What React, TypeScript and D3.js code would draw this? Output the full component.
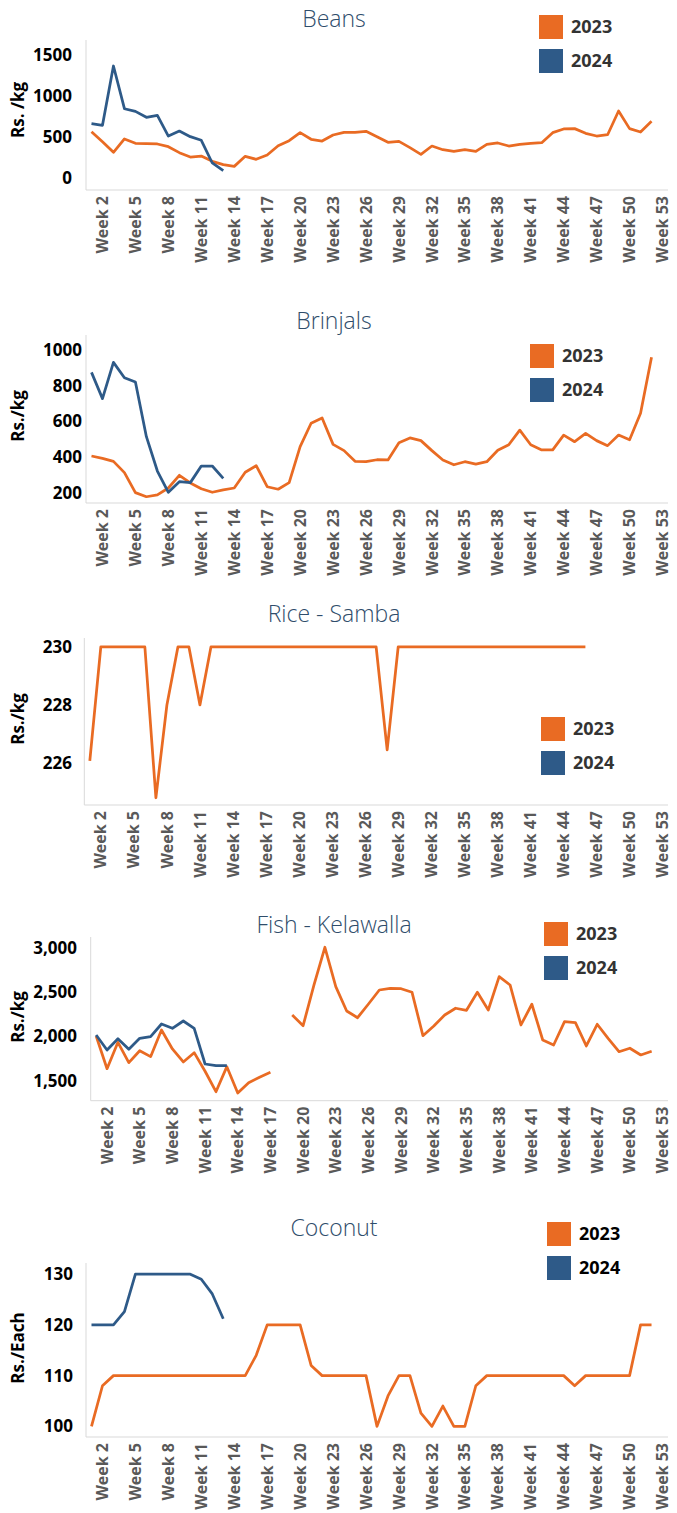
import React from "react";
import * as d3 from "d3";

// categories
const weeks = Array.from({ length: 53 }, (_, i) => `Week ${i + 1}`);
const weekTicks = [
  "Week 2", "Week 5", "Week 8", "Week 11", "Week 14", "Week 17", "Week 20", "Week 23", "Week 26",
  "Week 29", "Week 32", "Week 35", "Week 38", "Week 41", "Week 44", "Week 47", "Week 50", "Week 53",
];
const years = ["2023", "2024"];

// Beans (Rs. /kg)
const beans2023 = [
  565, 443, 313, 476, 423, 419, 415, 382, 309, 256, 268, 203, 163, 142, 264, 228, 280, 394, 455, 553,
  472, 451, 524, 557, 557, 569, 504, 435, 447, 370, 289, 390, 345, 325, 345, 325, 411, 427, 390, 411,
  423, 431, 553, 598, 602, 545, 512, 528, 817, 602, 561, 691,
];
const beans2024 = [662, 643, 1366, 845, 813, 740, 765, 512, 573, 504, 460, 183, 89];

// Brinjals (Rs./kg)
const brinjals2023 = [
  407, 394, 377, 314, 202, 179, 189, 228, 299, 256, 224, 204, 217, 228, 316, 353, 235, 221, 258, 459,
  590, 620, 472, 437, 377, 375, 386, 385, 481, 508, 493, 437, 385, 358, 375, 362, 375, 439, 470, 552,
  470, 441, 441, 524, 487, 534, 493, 465, 524, 498, 646, 959,
];
const brinjals2024 = [875, 728, 931, 845, 821, 515, 323, 204, 263, 258, 351, 351, 282];

// Rice - Samba (Rs./kg)
const rice2023 = [
  226.07, 230, 230, 230, 230, 230, 224.8, 228, 230, 230, 228, 230, 230, 230, 230, 230, 230, 230, 230, 230,
  230, 230, 230, 230, 230, 230, 230, 226.45, 230, 230, 230, 230, 230, 230, 230, 230, 230, 230, 230, 230,
  230, 230, 230, 230, 230, 230,
];
const rice2024: (number | null)[] = [];

// Fish - Kelawalla (Rs./kg)
const fish2023 = [
  2005, 1635, 1933, 1703, 1838, 1771, 2072, 1858, 1711, 1816, 1606, 1375, 1658, 1360, 1477, 1538, 1594, null, 2242, 2121,
  2581, 3007, 2562, 2287, 2211, 2366, 2524, 2543, 2539, 2498, 2008, 2117, 2242, 2318, 2295, 2498, 2298, 2675, 2581, 2129,
  2363, 1959, 1903, 2166, 2155, 1892, 2137, 1978, 1827, 1866, 1790, 1832,
];
const fish2024 = [2016, 1846, 1974, 1854, 1978, 1997, 2140, 2091, 2174, 2091, 1688, 1669, 1669];

// Coconut (Rs./Each)
const coconut2023 = [
  100, 108, 110, 110, 110, 110, 110, 110, 110, 110, 110, 110, 110, 110, 110, 114, 120, 120, 120, 120,
  112, 110, 110, 110, 110, 110, 100, 106, 110, 110, 102.6, 100, 104, 100, 100, 108, 110, 110, 110, 110,
  110, 110, 110, 110, 108, 110, 110, 110, 110, 110, 120, 120,
];
const coconut2024 = [120, 120, 120, 122.6, 130, 130, 130, 130, 130, 130, 129, 126.1, 121.2];

const ORANGE = "#E96B23";
const BLUE = "#2E5A88";
const FONT = "'Open Sans', sans-serif";
const AXIS = "#d9d9d9";

type PanelCfg = {
  title: string;
  unit: string;
  s2023: (number | null)[];
  s2024: (number | null)[];
  ticks: number[];
  fmt: (v: number) => string;
  domain: [number, number];
  left: number;
  right: number;
  top: number;
  bottom: number;
  labelRight: number;
  legendX: number;
  legendY: number;
  legendColor: string;
  titleY: number;
  unitY: number;
};

const plain = (v: number) => String(v);

const panels: PanelCfg[] = [
  {
    title: "Beans", unit: "Rs. /kg", s2023: beans2023, s2024: beans2024,
    ticks: [0, 500, 1000, 1500], fmt: plain, domain: [-146.3, 1683],
    left: 86, right: 668, top: 40, bottom: 190, labelRight: 72,
    legendX: 539, legendY: 15, legendColor: "#333", titleY: 27, unitY: 110,
  },
  {
    title: "Brinjals", unit: "Rs./kg", s2023: brinjals2023, s2024: brinjals2024,
    ticks: [200, 400, 600, 800, 1000], fmt: plain, domain: [144, 1084],
    left: 86, right: 668, top: 335, bottom: 503, labelRight: 82,
    legendX: 530, legendY: 344, legendColor: "#333", titleY: 329, unitY: 416,
  },
  {
    title: "Rice - Samba", unit: "Rs./kg", s2023: rice2023, s2024: rice2024,
    ticks: [226, 228, 230], fmt: plain, domain: [224.55, 230.31],
    left: 84.3, right: 668, top: 638, bottom: 805, labelRight: 72,
    legendX: 541, legendY: 717, legendColor: "#333", titleY: 622, unitY: 719,
  },
  {
    title: "Fish - Kelawalla", unit: "Rs./kg", s2023: fish2023, s2024: fish2024,
    ticks: [1500, 2000, 2500, 3000], fmt: d3.format(","), domain: [1273.4, 3123],
    left: 90.7, right: 668, top: 937, bottom: 1100.7, labelRight: 77,
    legendX: 544, legendY: 922, legendColor: "#333", titleY: 933, unitY: 1017,
  },
  {
    title: "Coconut", unit: "Rs./Each", s2023: coconut2023, s2024: coconut2024,
    ticks: [100, 110, 120, 130], fmt: plain, domain: [97.9, 132.2],
    left: 86, right: 668, top: 1263, bottom: 1437, labelRight: 73,
    legendX: 547, legendY: 1222, legendColor: "#000", titleY: 1236, unitY: 1348,
  },
];

function Panel({ p }: { p: PanelCfg }) {
  const x = d3.scaleBand().domain(weeks).range([p.left, p.right]);
  const y = d3.scaleLinear().domain(p.domain).range([p.bottom, p.top]);
  const cx = (i: number) => (x(weeks[i]) as number) + x.bandwidth() / 2;
  const line = d3
    .line<number | null>()
    .defined((d) => d != null)
    .x((_, i) => cx(i))
    .y((d) => y(d as number));

  const series = [
    { name: years[0], values: p.s2023, color: ORANGE },
    { name: years[1], values: p.s2024, color: BLUE },
  ];

  return (
    <g>
      <text x={334} y={p.titleY} textAnchor="middle" fontSize={23} fontWeight={300} fill="#2F4D6B">
        {p.title}
      </text>
      <line x1={p.left} x2={p.left} y1={p.top} y2={p.bottom} stroke={AXIS} strokeWidth={1} />
      <line x1={p.left} x2={p.right} y1={p.bottom} y2={p.bottom} stroke={AXIS} strokeWidth={1} />
      {p.ticks.map((t) => (
        <text key={t} x={p.labelRight} y={y(t)} dy="0.35em" textAnchor="end" fontSize={17} fontWeight={700} fill="#000">
          {p.fmt(t)}
        </text>
      ))}
      <text
        transform={`translate(18, ${p.unitY}) rotate(-90)`}
        textAnchor="middle"
        dy="0.35em"
        fontSize={17}
        fontWeight={700}
        fill="#000"
      >
        {p.unit}
      </text>
      {weekTicks.map((w) => (
        <text
          key={w}
          transform={`translate(${(x(w) as number) + x.bandwidth() / 2}, ${p.bottom + 6}) rotate(-90)`}
          textAnchor="end"
          dy="0.35em"
          fontSize={16}
          fontWeight={700}
          fill="#595959"
        >
          {w}
        </text>
      ))}
      {series.map((s) =>
        s.values.length ? (
          <path
            key={s.name}
            d={line(s.values) || ""}
            fill="none"
            stroke={s.color}
            strokeWidth={2.75}
            strokeLinejoin="round"
          />
        ) : null
      )}
      {series.map((s, i) => (
        <g key={s.name} transform={`translate(${p.legendX}, ${p.legendY + i * 34})`}>
          <rect width={24} height={24} fill={s.color} />
          <text x={32} y={12} dy="0.35em" fontSize={18} fontWeight={700} fill={p.legendColor}>
            {s.name}
          </text>
        </g>
      ))}
    </g>
  );
}

export default function App() {
  return (
    <svg
      width={677}
      height={1513}
      style={{ position: "absolute", left: 0, top: 0, background: "#fff" }}
      fontFamily={FONT}
    >
      {panels.map((p) => (
        <Panel key={p.title} p={p} />
      ))}
    </svg>
  );
}
